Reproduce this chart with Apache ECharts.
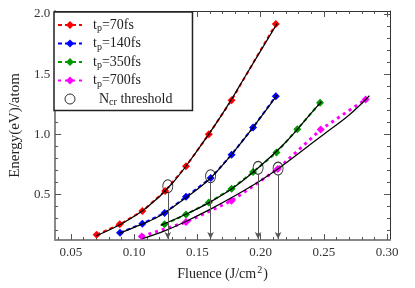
<!DOCTYPE html>
<html><head><meta charset="utf-8">
<script src="https://cdn.jsdelivr.net/npm/echarts@6/dist/echarts.min.js"></script>
<style>html,body{margin:0;padding:0;background:#fff}#c{width:415px;height:288px}</style>
</head><body><div id="c"></div>
<script>
// ---- data ----
const fluence70 = [0.0703, 0.0886, 0.1065, 0.1245, 0.141, 0.159, 0.177, 0.212];
const energy70  = [0.164, 0.25, 0.361, 0.528, 0.733, 1.0, 1.283, 1.917];
const fluence140 = [0.0888, 0.1065, 0.124, 0.141, 0.1605, 0.177, 0.194, 0.212];
const energy140  = [0.181, 0.256, 0.344, 0.48, 0.635, 0.83, 1.056, 1.315];
const fluence350 = [0.124, 0.141, 0.159, 0.177, 0.194, 0.2125, 0.229, 0.247];
const energy350  = [0.25, 0.333, 0.431, 0.547, 0.686, 0.847, 1.042, 1.261];
const fluence700 = [0.106, 0.141, 0.177, 0.2135, 0.2475, 0.283];
const energy700  = [0.15, 0.269, 0.446, 0.71, 1.039, 1.289];

// black fitted curves
const fitX70 = [0.07, 0.09, 0.11, 0.13, 0.15, 0.17, 0.19, 0.213];
const fitY70 = [0.155, 0.255, 0.39, 0.59, 0.866, 1.173, 1.52, 1.92];
const fitX140 = [0.088, 0.10, 0.12, 0.14, 0.16, 0.18, 0.20, 0.213];
const fitY140 = [0.175, 0.225, 0.32, 0.465, 0.632, 0.87, 1.14, 1.325];
const fitX350 = [0.121, 0.14, 0.16, 0.18, 0.20, 0.22, 0.24, 0.248];
const fitY350 = [0.242, 0.33, 0.435, 0.567, 0.738, 0.935, 1.175, 1.27];
const fitX700 = [0.1065, 0.125, 0.14, 0.16, 0.18, 0.20, 0.214, 0.23, 0.25, 0.27, 0.286];
const fitY700 = [0.13, 0.2, 0.27, 0.375, 0.49, 0.615, 0.714, 0.84, 1.0, 1.16, 1.32];

// N_cr threshold markers
const thrFluence = [0.1266, 0.1604, 0.198, 0.2138];
const thrEnergy  = [0.567, 0.65, 0.72, 0.714];
const thrArrowTop = [0.513, 0.596, 0.666, 0.66];
const thrArrowEnd = [0.128, 0.128, 0.128, 0.128];

// axes
const xMin = 0.0375, xMax = 0.3023, yMin = 0.12, yMax = 2.025;
const xLabelVals = [0.05, 0.10, 0.15, 0.20, 0.25, 0.30];
const xMinorVals = [0.04,0.05,0.06,0.07,0.08,0.09,0.10,0.11,0.12,0.13,0.14,0.15,0.16,0.17,0.18,0.19,0.20,0.21,0.22,0.23,0.24,0.25,0.26,0.27,0.28,0.29,0.30];
const yLabelVals = [0.5, 1.0, 1.5, 2.0];
const yMinorVals = [0.2,0.3,0.4,0.5,0.6,0.7,0.8,0.9,1.0,1.1,1.2,1.3,1.4,1.5,1.6,1.7,1.8,1.9,2.0];

const seriesNames = ['70fs', '140fs', '350fs', '700fs'];
const seriesColors = ['#ff0000', '#0000ff', '#009a00', '#ff00ff'];

const F = 'Liberation Serif, Times New Roman, serif';
const zip = (a, b) => a.map((v, i) => [v, b[i]]);

function xAx(pos, ticks, len, line, labels) {
  return {
    type: 'value', position: pos, min: xMin, max: xMax, gridIndex: 0,
    axisLine: line ? { show: true, lineStyle: line } : { show: false },
    axisTick: { show: true, inside: true, length: len, customValues: ticks,
      lineStyle: { color: '#555', width: 1 } },
    axisLabel: labels ? { show: true, customValues: labels, margin: 6,
      formatter: v => v.toFixed(2), fontFamily: F, fontSize: 13, color: '#333' } : { show: false },
    splitLine: { show: false }
  };
}
function yAx(pos, ticks, len, line, labels) {
  return {
    type: 'value', position: pos, min: yMin, max: yMax, gridIndex: 0,
    axisLine: line ? { show: true, lineStyle: line } : { show: false },
    axisTick: { show: true, inside: true, length: len, customValues: ticks,
      lineStyle: { color: '#555', width: 1 } },
    axisLabel: labels ? { show: true, customValues: labels, margin: 5,
      formatter: v => v.toFixed(1), fontFamily: F, fontSize: 13, color: '#333' } : { show: false },
    splitLine: { show: false }
  };
}

const xAxes = [
  xAx('bottom', xMinorVals, 3, { color: '#888', width: 2 }, xLabelVals),
  xAx('bottom', xLabelVals, 6, null, null),
  xAx('top', xMinorVals, 3, { color: '#333', width: 1 }, null),
  xAx('top', xLabelVals, 6, null, null)
];
Object.assign(xAxes[0], {
  name: '{a|Fluence (J/cm}{s|2}{a|)}', nameLocation: 'middle', nameGap: 25,
  nameTextStyle: { rich: {
    a: { fontFamily: F, fontSize: 14, color: '#222' },
    s: { fontFamily: F, fontSize: 10, color: '#222', padding: [0, 1, 9, 1] } } }
});
const yAxes = [
  yAx('left', yMinorVals, 3, { color: '#888', width: 2 }, yLabelVals),
  yAx('left', yLabelVals, 6, null, null),
  yAx('right', yMinorVals, 3, { color: '#333', width: 1 }, null),
  yAx('right', yLabelVals, 6, null, null)
];
Object.assign(yAxes[0], {
  name: 'Energy(eV)/atom', nameLocation: 'middle', nameGap: 27,
  nameTextStyle: { fontFamily: F, fontSize: 15, color: '#222' }
});

const dataX = [fluence70, fluence140, fluence350, fluence700];
const dataY = [energy70, energy140, energy350, energy700];
const fitsX = [fitX70, fitX140, fitX350, fitX700];
const fitsY = [fitY70, fitY140, fitY350, fitY700];

const series = [];
seriesNames.forEach((n, i) => {
  const mag = i === 3;
  series.push({
    name: n, type: 'line', data: zip(dataX[i], dataY[i]),
    symbol: 'diamond', symbolSize: 8, z: 2,
    itemStyle: { color: seriesColors[i] },
    lineStyle: { color: seriesColors[i], width: mag ? 3 : 2, type: mag ? [3, 4] : [4, 3] }
  });
});
seriesNames.forEach((n, i) => {
  series.push({
    type: 'line', data: zip(fitsX[i], fitsY[i]), smooth: 0.4,
    symbol: 'none', showSymbol: false, z: 3, silent: true,
    lineStyle: { color: '#000', width: 1.2 }
  });
});
series.push({
  name: 'thr', type: 'scatter', data: zip(thrFluence, thrEnergy), z: 4,
  symbol: 'circle', symbolSize: [10, 13],
  itemStyle: { color: 'rgba(0,0,0,0)', borderColor: '#000', borderWidth: 1 },
  markLine: {
    silent: true, symbol: ['none', 'arrow'], symbolSize: [5, 7],
    label: { show: false },
    itemStyle: { color: '#333' },
    lineStyle: { color: '#555', width: 1, type: 'solid' },
    data: thrFluence.map((x, i) => [{ coord: [x, thrArrowTop[i]] }, { coord: [x, thrArrowEnd[i]] }])
  }
});

const legendRich = {
  t: { fontFamily: F, fontSize: 14, color: '#222', padding: [0, 0, 0, 6] },
  a: { fontFamily: F, fontSize: 14, color: '#222' },
  s: { fontFamily: F, fontSize: 10, color: '#222', padding: [7, 0, 0, 0] },
  n: { fontFamily: F, fontSize: 14, color: '#222', padding: [0, 0, 0, 12] }
};

const option = {
  animation: false,
  backgroundColor: '#fff',
  grid: { left: 51, right: 25, top: 11, bottom: 48, containLabel: false },
  xAxis: xAxes,
  yAxis: yAxes,
  legend: {
    orient: 'vertical', left: 54, top: 12, selectedMode: false,
    itemWidth: 24, itemHeight: 10, itemGap: 3,
    padding: [6, 20, 3, 3],
    borderColor: '#222', borderWidth: 1.5, backgroundColor: '#fff',
    data: seriesNames.concat([{ name: 'thr', icon: 'circle',
      itemStyle: { color: 'rgba(0,0,0,0)', borderColor: '#000', borderWidth: 1 } }]),
    formatter: n => n === 'thr' ? '{n|N}{s|cr}{a| threshold}' : '{t|t}{s|p}{a|=' + n + '}',
    textStyle: { rich: legendRich, fontFamily: F, fontSize: 14 }
  },
  series: series
};
const chart = echarts.init(document.getElementById('c'));
chart.setOption(option);
</script></body></html>
